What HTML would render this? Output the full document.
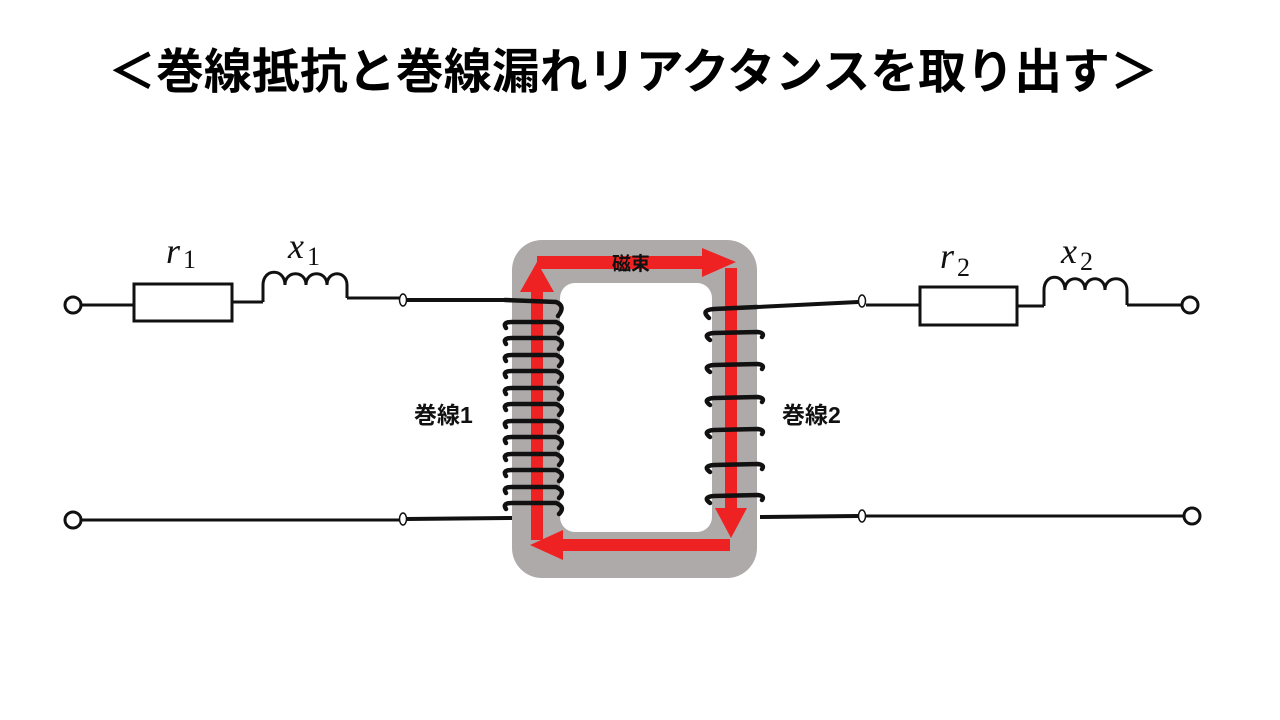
<!DOCTYPE html>
<html><head><meta charset="utf-8"><style>
html,body{margin:0;padding:0;background:#fff;}
svg{display:block;}
</style></head><body>
<svg width="1280" height="720" viewBox="0 0 1280 720" xmlns="http://www.w3.org/2000/svg">
<text x="633" y="88" text-anchor="middle" font-family="'Liberation Sans','Noto Sans CJK JP',sans-serif" font-weight="bold" font-size="48" textLength="1050" lengthAdjust="spacingAndGlyphs" fill="#000">＜巻線抵抗と巻線漏れリアクタンスを取り出す＞</text>

<!-- core -->
<path fill-rule="evenodd" fill="#aeaaaa" d="M542,240 H727 A30,30 0 0 1 757,270 V548 A30,30 0 0 1 727,578 H542 A30,30 0 0 1 512,548 V270 A30,30 0 0 1 542,240 Z M575,283 H697 A15,15 0 0 1 712,298 V517 A15,15 0 0 1 697,532 H575 A15,15 0 0 1 560,517 V298 A15,15 0 0 1 575,283 Z"/>

<!-- red flux arrows -->
<g fill="#ee2222">
<rect x="531" y="290" width="12" height="250"/>
<polygon points="520,292 554,292 537,262"/>
<rect x="537" y="256" width="170" height="13"/>
<polygon points="702,248 702,277 736,262"/>
<rect x="725" y="268" width="12" height="250"/>
<polygon points="715,508 747,508 731,538"/>
<rect x="560" y="539" width="170" height="12"/>
<polygon points="563,530 563,560 530,545"/>
</g>

<g fill="none" stroke="#111" stroke-width="3">
<!-- left circuit -->
<circle cx="73" cy="305" r="8"/>
<line x1="81" y1="305" x2="133" y2="305"/>
<rect x="134" y="284" width="98" height="37"/>
<line x1="232" y1="302" x2="263" y2="302"/>
<path d="M263,302 V285 C263,268 285,268 285,285 C285,270 306,270 306,285 C306,270 327,270 327,285 C327,270 347,270 347,285 V298"/>
<line x1="347" y1="298" x2="400" y2="298"/>
<line x1="406" y1="300" x2="505" y2="300" stroke-width="4"/>
<ellipse cx="403" cy="300" rx="3.5" ry="6" fill="#fff" stroke-width="1.5"/>
<circle cx="73" cy="520" r="8"/>
<line x1="81" y1="520" x2="400" y2="520"/>
<line x1="406" y1="519" x2="512" y2="518" stroke-width="4"/>
<ellipse cx="403" cy="519" rx="3.5" ry="6" fill="#fff" stroke-width="1.5"/>

<!-- right circuit -->
<line x1="757" y1="307" x2="858" y2="302" stroke-width="4"/>
<ellipse cx="862" cy="301" rx="3.5" ry="6" fill="#fff" stroke-width="1.5"/>
<line x1="866" y1="305" x2="919" y2="305"/>
<rect x="920" y="287" width="97" height="38"/>
<line x1="1017" y1="306" x2="1044" y2="306"/>
<path d="M1044,306 V290 C1044,273 1065,273 1065,290 C1065,275 1085,275 1085,290 C1085,275 1105,275 1105,290 C1105,275 1127,275 1127,290 V305"/>
<line x1="1127" y1="305" x2="1182" y2="305"/>
<circle cx="1190" cy="305" r="8"/>
<line x1="760" y1="517" x2="858" y2="516" stroke-width="4"/>
<ellipse cx="862" cy="516" rx="3.5" ry="6" fill="#fff" stroke-width="1.5"/>
<line x1="866" y1="516" x2="1184" y2="516"/>
<circle cx="1192" cy="516" r="8"/>
</g>

<!-- left coil -->
<g fill="none" stroke="#111" stroke-width="4.5" stroke-linecap="round">
<path d="M505,300 L556,302 Q566,306 558,316"/>
<path d="M506,328 Q502,322 512,322 L556,322 Q566,326 559,333"/>
<path d="M506,344 Q502,338 512,338 L556,338 Q566,342 559,349"/>
<path d="M506,361 Q502,355 512,355 L556,355 Q566,359 559,366"/>
<path d="M506,377 Q502,371 512,371 L556,371 Q566,375 559,382"/>
<path d="M506,394 Q502,388 512,388 L556,388 Q566,392 559,399"/>
<path d="M506,410 Q502,404 512,404 L556,404 Q566,408 559,415"/>
<path d="M506,427 Q502,421 512,421 L556,421 Q566,425 559,432"/>
<path d="M506,443 Q502,437 512,437 L556,437 Q566,441 559,448"/>
<path d="M506,460 Q502,454 512,454 L556,454 Q566,458 559,465"/>
<path d="M506,476 Q502,470 512,470 L556,470 Q566,474 559,481"/>
<path d="M506,493 Q502,487 512,487 L556,487 Q566,491 559,498"/>
<path d="M506,509 Q502,503 512,503 L556,503 Q566,507 559,514"/>
</g>
<!-- right coil -->
<g fill="none" stroke="#111" stroke-width="4.5" stroke-linecap="round">
<path d="M709,318 Q700,310 714,309 L757,307"/>
<path d="M710,340 Q702,334 714,333 L758,332 Q765,333 762,337"/>
<path d="M710,372 Q702,366 714,365 L758,364 Q765,365 762,369"/>
<path d="M710,405 Q702,399 714,398 L758,397 Q765,398 762,402"/>
<path d="M710,437 Q702,431 714,430 L758,429 Q765,430 762,434"/>
<path d="M710,472 Q702,466 714,465 L758,464 Q765,465 762,469"/>
<path d="M710,503 Q702,497 714,496 L758,495 Q765,496 762,500"/>
</g>

<g font-family="'Liberation Sans','Noto Sans CJK JP',sans-serif" font-weight="bold" fill="#111">
<text x="612" y="270" font-size="19">磁束</text>
<text x="414" y="423" font-size="23">巻線1</text>
<text x="782" y="423" font-size="23">巻線2</text>
</g>
<g font-family="'Liberation Serif',serif" fill="#111">
<text x="166" y="263" font-size="36" font-style="italic">r</text><text x="183" y="268" font-size="26">1</text>
<text x="288" y="258" font-size="36" font-style="italic">x</text><text x="307" y="265" font-size="26">1</text>
<text x="940" y="268" font-size="36" font-style="italic">r</text><text x="957" y="276" font-size="26">2</text>
<text x="1061" y="263" font-size="36" font-style="italic">x</text><text x="1080" y="270" font-size="26">2</text>
</g>
</svg>
</body></html>
